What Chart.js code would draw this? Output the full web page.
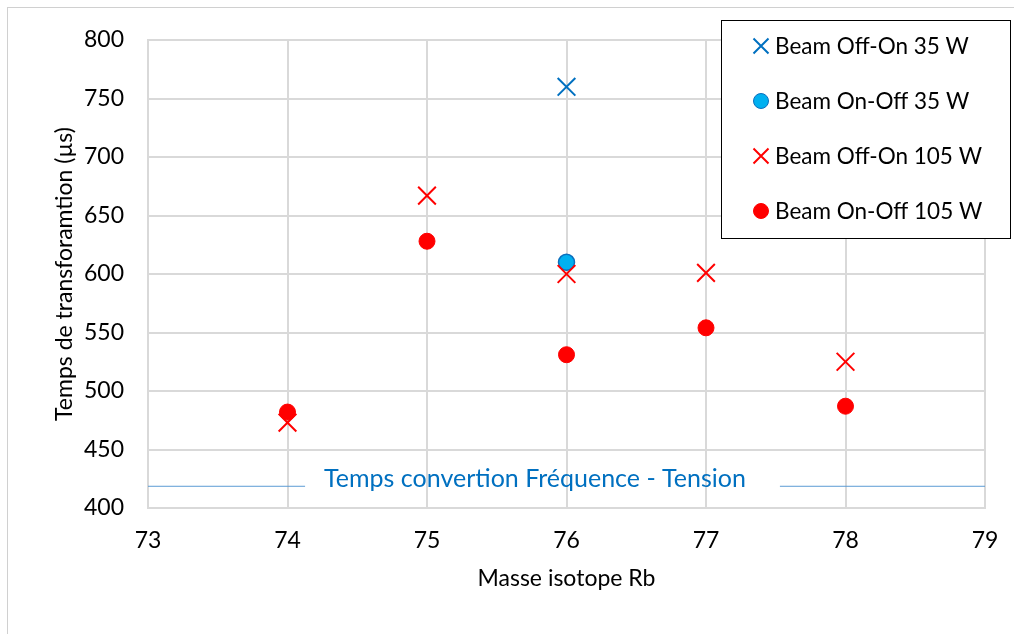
<!DOCTYPE html>
<html>
<head>
<meta charset="utf-8">
<script src="https://cdn.jsdelivr.net/npm/chart.js@4/dist/chart.umd.min.js"></script>
<style>
  html, body { margin: 0; padding: 0; background: #fff; }
  #wrap { position: relative; width: 1014px; height: 634px; }
  #frame { position: absolute; left: 7px; top: 7px; width: 1020px; height: 640px; border: 1px solid #d0d0d0; box-sizing: border-box; pointer-events: none; }
</style>
</head>
<body>
<div id="wrap">
  <canvas id="chart" width="1014" height="634"></canvas>
  <div id="frame"></div>
</div>
<script>
// Data
const offOn35 = [{ x: 76, y: 760 }];
const onOff35 = [{ x: 76, y: 610 }];
const offOn105 = [
    { x: 74, y: 473 }, { x: 75, y: 667 }, { x: 76, y: 600 }, { x: 77, y: 601 }, { x: 78, y: 525 }
];
const onOff105 = [
    { x: 74, y: 482 }, { x: 75, y: 628 }, { x: 76, y: 531 }, { x: 77, y: 554 }, { x: 78, y: 487 }
];
const seriesLabels = ['Beam Off-On 35 W', 'Beam On-Off 35 W', 'Beam Off-On 105 W', 'Beam On-Off 105 W'];
const conversionTime = 419;
const conversionLabel = 'Temps convertion Fréquence - Tension';
const xRange = [73, 79];
const yRange = [400, 800];

const FONT = 'Lato, "Open Sans", sans-serif';

// reference line with a gap for its label
const refLinePlugin = {
    id: 'refLine',
    afterDatasetsDraw(chart) {
        const { ctx, chartArea, scales } = chart;
        const y = scales.y.getPixelForValue(conversionTime);
        ctx.save();
        ctx.font = '25px ' + FONT;
        const w = ctx.measureText(conversionLabel).width;
        const cx = 535;
        const gapL = cx - w / 2 - 19;
        const gapR = cx + w / 2 + 34;
        ctx.strokeStyle = '#5b9bd5';
        ctx.lineWidth = 1;
        ctx.beginPath();
        ctx.moveTo(chartArea.left, y + 0.5);
        ctx.lineTo(gapL, y + 0.5);
        ctx.moveTo(gapR, y + 0.5);
        ctx.lineTo(chartArea.right, y + 0.5);
        ctx.stroke();
        ctx.fillStyle = '#0070c0';
        ctx.textAlign = 'center';
        ctx.textBaseline = 'middle';
        ctx.fillText(conversionLabel, cx, y - 7);
        ctx.restore();
    }
};

// boxed legend in the top right corner
const boxLegendPlugin = {
    id: 'boxLegend',
    afterDraw(chart) {
        const { ctx } = chart;
        const left = 721, top = 20, right = 1010, bottom = 238;
        ctx.save();
        ctx.fillStyle = '#fff';
        ctx.fillRect(left, top, right - left, bottom - top);
        ctx.strokeStyle = '#000';
        ctx.lineWidth = 1;
        ctx.strokeRect(left + 0.5, top + 0.5, right - left, bottom - top);
        ctx.font = '22.5px ' + FONT;
        ctx.textBaseline = 'middle';
        chart.data.datasets.forEach((ds, i) => {
            const yy = top + 26 + i * 55;
            const mx = 761;
            if (ds.pointStyle === 'crossRot') {
                ctx.strokeStyle = ds.borderColor;
                ctx.lineWidth = 2;
                ctx.beginPath();
                ctx.moveTo(mx - 7.5, yy - 7.5); ctx.lineTo(mx + 7.5, yy + 7.5);
                ctx.moveTo(mx + 7.5, yy - 7.5); ctx.lineTo(mx - 7.5, yy + 7.5);
                ctx.stroke();
            } else {
                ctx.fillStyle = ds.backgroundColor;
                ctx.strokeStyle = ds.borderColor;
                ctx.lineWidth = 1;
                ctx.beginPath();
                ctx.arc(mx, yy, 7.5, 0, Math.PI * 2);
                ctx.fill();
                ctx.stroke();
            }
            ctx.fillStyle = '#000';
            ctx.textAlign = 'left';
            ctx.fillText(ds.label, 775, yy + 1);
        });
        ctx.restore();
    }
};

new Chart(document.getElementById('chart'), {
    type: 'scatter',
    data: {
        datasets: [
            {
                label: seriesLabels[0], data: offOn35, order: 0,
                pointStyle: 'crossRot', radius: 12.5, borderColor: '#0070c0', backgroundColor: '#0070c0', borderWidth: 2
            },
            {
                label: seriesLabels[1], data: onOff35, order: 1,
                pointStyle: 'circle', radius: 8, borderColor: '#0b6fbd', backgroundColor: '#00b0f0', borderWidth: 1.5
            },
            {
                label: seriesLabels[2], data: offOn105, order: 0,
                pointStyle: 'crossRot', radius: 12.5, borderColor: '#ff0000', backgroundColor: '#ff0000', borderWidth: 2
            },
            {
                label: seriesLabels[3], data: onOff105, order: 1,
                pointStyle: 'circle', radius: 8, borderColor: '#ff0000', backgroundColor: '#ff0000', borderWidth: 1
            }
        ]
    },
    options: {
        responsive: false,
        animation: false,
        events: [],
        layout: { padding: { top: 40, right: 29, left: 0, bottom: 0 } },
        plugins: {
            legend: { display: false },
            tooltip: { enabled: false }
        },
        scales: {
            x: {
                type: 'linear',
                min: xRange[0], max: xRange[1],
                ticks: { stepSize: 1, color: '#000', font: { family: FONT, size: 23 }, padding: 19 },
                grid: { color: '#d9d9d9', lineWidth: 2, drawTicks: false },
                border: { color: '#d9d9d9', width: 2 },
                title: { display: true, text: 'Masse isotope Rb', color: '#000', font: { family: FONT, size: 23 }, padding: { top: 0, bottom: 42 } },
                afterFit(scale) { scale.height = 126; scale.paddingLeft = 0; scale.paddingRight = 0; }
            },
            y: {
                min: yRange[0], max: yRange[1],
                ticks: { stepSize: 50, color: '#000', font: { family: FONT, size: 23 }, padding: 24 },
                grid: { color: '#d9d9d9', lineWidth: 2, drawTicks: false },
                border: { color: '#d9d9d9', width: 2 },
                title: { display: true, text: 'Temps de transforamtion (µs)', color: '#000', font: { family: FONT, size: 23 }, padding: { top: 51, bottom: 0 } },
                afterFit(scale) { scale.width = 148; scale.paddingTop = 0; scale.paddingBottom = 0; }
            }
        }
    },
    plugins: [refLinePlugin, boxLegendPlugin]
});
</script>
</body>
</html>
